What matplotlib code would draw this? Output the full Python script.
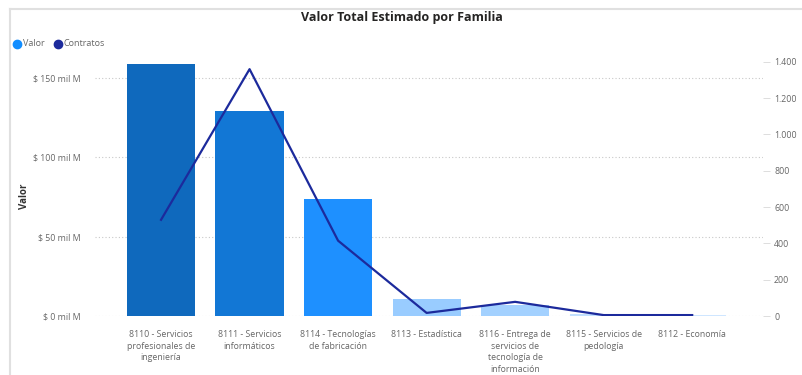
import numpy as np
import matplotlib.pyplot as plt
from matplotlib.lines import Line2D

plt.rcParams['font.family'] = ['Open Sans', 'DejaVu Sans']

# datos por familia
familias = [
    "8110 - Servicios\nprofesionales de\ningeniería",
    "8111 - Servicios\ninformáticos",
    "8114 - Tecnologías\nde fabricación",
    "8113 - Estadística",
    "8116 - Entrega de\nservicios de\ntecnología de\ninformación",
    "8115 - Servicios de\npedología",
    "8112 - Economía",
]
valor = [159, 129.5, 74, 10.7, 7, 1.3, 0.6]          # miles de millones
contratos = [530, 1360, 415, 17, 78, 5, 5]
colores = ["#0F69BD", "#1277D5", "#1E90FF", "#99CCFF", "#A3D1FF", "#C2E0FF", "#CFE6FF"]

grid_c = "#C8C8C8"
txt_c = "#666666"

fig = plt.figure(figsize=(8.03, 3.75), dpi=100)
ax = fig.add_axes([95 / 803, 1 - 316 / 375, 668 / 803, 261 / 375])
ax2 = ax.twinx()

x = np.arange(len(familias))
ax.bar(x, valor, width=0.77, color=colores, zorder=2)
ax2.plot(x, contratos, color="#1C2A9C", lw=1.6, zorder=3)

ax.set_xlim(-0.746, 6.80)
ax.set_ylim(0, 164.6)
ax2.set_ylim(0, 1438)

ax.set_yticks([0, 50, 100, 150])
ax.set_yticklabels(["$ 0 mil M", "$ 50 mil M", "$ 100 mil M", "$ 150 mil M"])
ax.yaxis.grid(True, color=grid_c, linestyle=(0, (1, 2)), lw=0.8, zorder=0)
ax.tick_params(axis="y", length=0, pad=10, labelsize=6.3, labelcolor=txt_c)
ax.set_xticks(x)
ax.set_xticklabels(familias, fontsize=6.3, color=txt_c, linespacing=1.4)
ax.tick_params(axis="x", length=0, pad=10)

ax2.set_yticks(range(0, 1401, 200))
ax2.set_yticklabels(["0", "200", "400", "600", "800", "1.000", "1.200", "1.400"])
ax2.tick_params(axis="y", length=5, width=0.6, color="#D8D8D8", pad=3,
                labelsize=6.3, labelcolor=txt_c)

for a in (ax, ax2):
    for s in a.spines.values():
        s.set_visible(False)

ax.set_ylabel("Valor", fontsize=7, fontweight="bold", color="#333333")
ax.yaxis.set_label_coords(-0.098, 0.46)

fig.text(0.5, 1 - 18 / 375, "Valor Total Estimado por Familia", ha="center", va="center",
         fontsize=9, fontweight="bold", color="#252423")

# leyenda
fig.add_artist(Line2D([17 / 803], [1 - 44 / 375], marker="o", ms=6, color="#118DFF",
                      transform=fig.transFigure))
fig.text(23 / 803, 1 - 44 / 375, "Valor", va="center", fontsize=6.5, color=txt_c)
fig.add_artist(Line2D([58 / 803], [1 - 44 / 375], marker="o", ms=6, color="#1C2A9C",
                      transform=fig.transFigure))
fig.text(64 / 803, 1 - 44 / 375, "Contratos", va="center", fontsize=6.5, color=txt_c)

# borde del visual
fig.add_artist(Line2D([10 / 803, 1], [1 - 9 / 375, 1 - 9 / 375], color="#E0E0E0", lw=1.5,
                      transform=fig.transFigure))
fig.add_artist(Line2D([10 / 803, 10 / 803], [0, 1 - 9 / 375], color="#E0E0E0", lw=1.5,
                      transform=fig.transFigure))

fig.savefig("out.png", dpi=100)
